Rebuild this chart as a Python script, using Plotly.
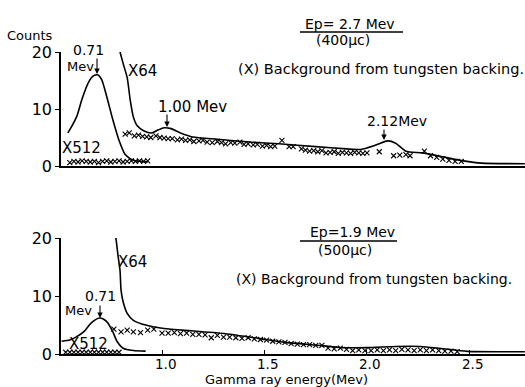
import plotly.graph_objects as go
from plotly.subplots import make_subplots

# ---------------- data ----------------
# Top panel: Ep = 2.7 MeV
top_x512_e = [0.54, 0.56, 0.585, 0.61, 0.64, 0.665, 0.685, 0.705, 0.73, 0.76, 0.79, 0.82, 0.86, 0.93]
top_x512_c = [5.8, 7.0, 8.8, 11.8, 14.6, 15.8, 16.0, 15.2, 12.2, 8.1, 4.5, 2.0, 1.0, 0.7]

top_x64_e = [0.795, 0.81, 0.83, 0.845, 0.86, 0.88, 0.91, 0.95, 0.98, 1.01, 1.04, 1.09, 1.15, 1.27,
             1.43, 1.57, 1.75, 1.90, 1.97, 2.03, 2.06, 2.10, 2.14, 2.19, 2.27, 2.37, 2.47, 2.56, 2.77]
top_x64_c = [20, 18, 15.5, 11.5, 8.6, 7.0, 6.2, 5.8, 6.3, 6.7, 6.6, 5.8, 5.1, 4.7,
             4.2, 3.9, 3.4, 3.0, 2.9, 3.5, 3.9, 4.4, 4.0, 2.6, 2.3, 1.6, 0.9, 0.5, 0.4]

top_bg64_e = [0.82, 0.84, 0.865, 0.885, 0.905, 0.925, 0.945, 0.97, 0.99, 1.01, 1.03, 1.05, 1.075, 1.095,
              1.115, 1.135, 1.155, 1.18, 1.20, 1.22, 1.245, 1.27, 1.29, 1.31, 1.335, 1.355, 1.38, 1.40,
              1.42, 1.445, 1.465, 1.49, 1.51, 1.53, 1.55, 1.585, 1.62, 1.64, 1.68, 1.70, 1.72, 1.74,
              1.76, 1.78, 1.80, 1.82, 1.84, 1.86, 1.88, 1.90, 1.92, 1.94, 1.96, 1.98, 2.00, 2.06,
              2.13, 2.16, 2.19, 2.21, 2.28, 2.31, 2.34, 2.37, 2.40, 2.43, 2.46]
top_bg64_c = [5.6, 5.8, 5.3, 5.4, 5.2, 5.1, 5.0, 5.3, 5.0, 4.9, 4.8, 4.8, 4.6, 4.7,
              4.5, 4.6, 4.3, 4.4, 4.5, 4.2, 4.1, 4.3, 4.1, 3.9, 4.1, 4.0, 4.2, 3.8,
              3.9, 3.7, 3.8, 3.5, 3.6, 3.4, 3.5, 4.5, 3.4, 3.4, 3.0, 2.8, 2.6, 2.7,
              2.5, 2.7, 2.3, 2.4, 2.5, 2.2, 2.4, 2.3, 2.2, 2.4, 2.3, 2.2, 2.3, 2.5,
              1.8, 1.9, 2.0, 1.8, 2.6, 1.8, 1.5, 1.2, 1.0, 0.8, 0.8]

top_bg512_e = [0.55, 0.57, 0.59, 0.61, 0.63, 0.65, 0.67, 0.69, 0.71, 0.73, 0.75, 0.77, 0.79, 0.81,
               0.83, 0.85, 0.87, 0.89, 0.91, 0.93]
top_bg512_c = [0.6, 0.8, 0.7, 0.9, 0.8, 0.7, 0.8, 0.6, 0.8, 0.9, 0.7, 0.8, 0.9, 0.7,
               0.8, 0.9, 0.8, 0.9, 0.8, 0.9]

# Bottom panel: Ep = 1.9 MeV
bot_x512_e = [0.51, 0.55, 0.58, 0.62, 0.645, 0.67, 0.695, 0.715, 0.735, 0.76, 0.78, 0.81, 0.86, 0.92]
bot_x512_c = [2.2, 2.4, 2.9, 3.9, 5.0, 5.8, 6.2, 6.0, 5.4, 3.8, 2.2, 1.0, 0.6, 0.5]

bot_x64_e = [0.775, 0.785, 0.795, 0.80, 0.81, 0.83, 0.86, 0.93, 1.01, 1.14, 1.31, 1.47, 1.60,
             1.78, 1.87, 2.00, 2.14, 2.26, 2.36, 2.49, 2.77]
bot_x64_c = [20, 17, 14.4, 11, 9.0, 7.0, 5.8, 4.9, 4.4, 4.0, 3.5, 2.7, 2.0,
             1.45, 1.1, 1.1, 1.3, 1.3, 0.95, 0.45, 0.4]

bot_bg64_e = [0.765, 0.80, 0.83, 0.86, 0.895, 0.93, 0.96, 1.00, 1.03, 1.06, 1.09, 1.12, 1.15, 1.18,
              1.21, 1.24, 1.27, 1.30, 1.33, 1.36, 1.39, 1.42, 1.45, 1.48, 1.51, 1.54, 1.57, 1.60,
              1.63, 1.66, 1.69, 1.72, 1.75, 1.78, 1.81, 1.84, 1.87, 1.90, 1.93, 1.96, 1.99, 2.02,
              2.05, 2.08, 2.11, 2.14, 2.17, 2.20, 2.23, 2.26, 2.29, 2.32, 2.35, 2.38, 2.41, 2.44]
bot_bg64_c = [4.3, 3.8, 4.1, 3.8, 3.7, 4.1, 4.3, 3.6, 3.6, 3.7, 3.5, 3.6, 3.4, 3.4,
              3.3, 2.8, 3.2, 2.9, 2.9, 2.8, 2.7, 2.8, 2.6, 2.5, 2.4, 2.2, 2.1, 2.0,
              1.8, 1.7, 1.6, 1.6, 1.5, 1.5, 1.0, 0.9, 1.0, 0.8, 0.6, 0.7, 0.6, 0.6,
              0.7, 0.6, 0.7, 0.6, 0.8, 0.7, 0.6, 0.7, 0.6, 0.7, 0.6, 0.5, 0.5, 0.4]

bot_bg512_e = [0.53, 0.55, 0.57, 0.59, 0.61, 0.63, 0.65, 0.67, 0.69, 0.71, 0.73, 0.75, 0.77, 0.79]
bot_bg512_c = [0.3, 0.3, 0.3, 0.3, 0.3, 0.3, 0.3, 0.3, 0.3, 0.3, 0.3, 0.3, 0.3, 0.3]

x_ticks = [1.0, 1.5, 2.0, 2.5]
x_tick_labels = ["1.0", "1.5", "2.0", "2.5"]
y_ticks = [0, 10, 20]
y_tick_labels = ["0", "10", "20"]

# ---------------- figure ----------------
W, H = 525, 387
ML, MR, MT, MB = 61, 0, 52, 33
PW, PH = W - ML - MR, H - MT - MB

def px(x):
    return (x - ML) / PW

def py(y):
    return (H - MB - y) / PH

FONT = "DejaVu Sans"
INK = "black"

fig = make_subplots(rows=2, cols=1, shared_xaxes=False)

line_style = dict(color=INK, width=1.6, shape="spline", smoothing=0.6)
mark_style = dict(symbol="x-thin", size=5, color=INK, line=dict(color=INK, width=1.1))

for row, (a, b, c, d, e, f, g, h) in enumerate([
    (top_x512_e, top_x512_c, top_x64_e, top_x64_c, top_bg64_e, top_bg64_c, top_bg512_e, top_bg512_c),
    (bot_x512_e, bot_x512_c, bot_x64_e, bot_x64_c, bot_bg64_e, bot_bg64_c, bot_bg512_e, bot_bg512_c),
], start=1):
    fig.add_trace(go.Scatter(x=a, y=b, mode="lines", line=line_style, showlegend=False), row=row, col=1)
    fig.add_trace(go.Scatter(x=c, y=d, mode="lines", line=line_style, showlegend=False), row=row, col=1)
    fig.add_trace(go.Scatter(x=e, y=f, mode="markers", marker=mark_style, showlegend=False), row=row, col=1)
    fig.add_trace(go.Scatter(x=g, y=h, mode="markers", marker=mark_style, showlegend=False), row=row, col=1)

xr = [0.507, 2.771]
common_x = dict(range=xr, showline=True, linecolor=INK, linewidth=1.5, showgrid=False, zeroline=False)
fig.update_xaxes(**common_x, showticklabels=False, ticks="", row=1, col=1)
fig.update_xaxes(**common_x, tickmode="array", tickvals=x_ticks, showticklabels=False,
                 ticks="inside", ticklen=4, tickcolor=INK, row=2, col=1)
common_y = dict(range=[0, 20], showline=True, linecolor=INK, linewidth=1.5, showgrid=False,
                zeroline=False, tickmode="array", tickvals=y_ticks, ticktext=y_tick_labels,
                ticks="outside", ticklen=4, tickcolor=INK,
                tickfont=dict(family=FONT, size=16, color=INK))
fig.update_yaxes(**common_y, row=1, col=1)
fig.update_yaxes(**common_y, row=2, col=1)

fig.update_layout(
    width=W, height=H,
    margin=dict(l=ML, r=MR, t=MT, b=MB),
    paper_bgcolor="white", plot_bgcolor="white",
    font=dict(family=FONT, color=INK),
    xaxis=dict(domain=[0, 1]), xaxis2=dict(domain=[0, 1]),
    yaxis=dict(domain=[(H - MB - 166) / PH, 1]),
    yaxis2=dict(domain=[0, (H - MB - 238) / PH]),
)

# x tick labels of the lower axis, placed just under the axis line
for tv, tt in zip(x_ticks, x_tick_labels):
    fig.add_annotation(x=tv, xref="x2", y=py(364), yref="paper", text=tt, showarrow=False,
                       xshift=3, font=dict(family=FONT, size=13.5, color=INK),
                       xanchor="center", yanchor="middle", borderpad=0)

def text(x, y, s, size=14):
    fig.add_annotation(x=px(x), y=py(y), xref="paper", yref="paper", text=s, showarrow=False,
                       font=dict(family=FONT, size=size, color=INK), xanchor="center", yanchor="middle",
                       borderpad=0)

def arrow(x, y_tip, length):
    fig.add_annotation(x=px(x), y=py(y_tip), xref="paper", yref="paper", text="", showarrow=True,
                       ax=0, ay=-length, arrowhead=2, arrowsize=1, arrowwidth=1.1, arrowcolor=INK)

def hline(x0, x1, y):
    fig.add_shape(type="line", xref="paper", yref="paper", x0=px(x0), x1=px(x1), y0=py(y), y1=py(y),
                  line=dict(color=INK, width=1.3))

# top panel texts
text(30, 36, "Counts", 13)
text(350, 24, "Ep= 2.7 Mev", 14)
hline(300, 403, 32)
text(343, 40, "(400μc)", 14)
text(381, 69, "(X) Background from tungsten backing.", 14.5)
text(88, 50, "0.71", 14)
text(80, 66, "Mev", 13)
arrow(97, 74, 17)
text(142, 71, "X64", 15)
text(192, 107, "1.00 Mev", 15)
arrow(167, 127, 14)
text(81, 148, "X512", 15)
text(397, 121, "2.12Mev", 14)
arrow(384, 140, 12)

# bottom panel texts
text(352, 232, "Ep=1.9 Mev", 14)
hline(300, 397, 241)
text(345, 250, "(500μc)", 14)
text(374, 279, "(X) Background from tungsten backing.", 14)
text(132, 262, "X64", 15)
text(100, 296, "0.71", 14)
text(78, 310, "Mev", 13)
arrow(100, 318, 14)
text(88, 344, "X512", 15)
text(286, 379, "Gamma ray energy(Mev)", 13)

fig.write_html("out.html")
